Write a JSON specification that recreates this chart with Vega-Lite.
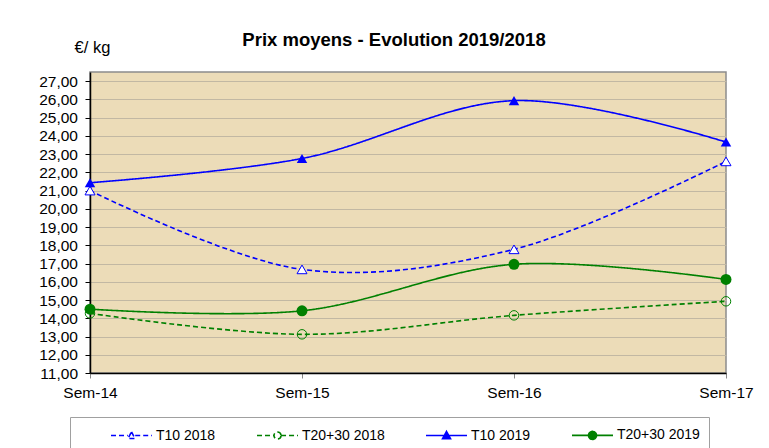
{
  "$schema": "https://vega.github.io/schema/vega-lite/v6.json",
  "width": 636,
  "height": 301,
  "autosize": {"type": "none"},
  "padding": {"left": 90, "top": 72, "right": 43, "bottom": 75},
  "background": "white",
  "title": {
    "text": "Prix moyens - Evolution 2019/2018",
    "font": "Liberation Sans",
    "fontSize": 18.5,
    "fontWeight": "bold",
    "color": "black",
    "frame": "group",
    "anchor": "middle",
    "baseline": "alphabetic",
    "offset": 0,
    "dy": 25,
    "dx": -14
  },
  "data": {
    "values": [
      {"semaine": "Sem-14", "serie": "T10 2018", "prix": 21.0},
      {"semaine": "Sem-15", "serie": "T10 2018", "prix": 16.68},
      {"semaine": "Sem-16", "serie": "T10 2018", "prix": 17.78},
      {"semaine": "Sem-17", "serie": "T10 2018", "prix": 22.6},
      {"semaine": "Sem-14", "serie": "T20+30 2018", "prix": 14.27},
      {"semaine": "Sem-15", "serie": "T20+30 2018", "prix": 13.12},
      {"semaine": "Sem-16", "serie": "T20+30 2018", "prix": 14.16},
      {"semaine": "Sem-17", "serie": "T20+30 2018", "prix": 14.93},
      {"semaine": "Sem-14", "serie": "T10 2019", "prix": 21.43},
      {"semaine": "Sem-15", "serie": "T10 2019", "prix": 22.76},
      {"semaine": "Sem-16", "serie": "T10 2019", "prix": 25.93},
      {"semaine": "Sem-17", "serie": "T10 2019", "prix": 23.66},
      {"semaine": "Sem-14", "serie": "T20+30 2019", "prix": 14.5},
      {"semaine": "Sem-15", "serie": "T20+30 2019", "prix": 14.41},
      {"semaine": "Sem-16", "serie": "T20+30 2019", "prix": 16.96},
      {"semaine": "Sem-17", "serie": "T20+30 2019", "prix": 16.13}
    ]
  },
  "encoding": {
    "x": {
      "field": "semaine",
      "type": "ordinal",
      "scale": {"type": "point", "padding": 0},
      "axis": {
        "title": null,
        "labelAngle": 0,
        "labelFont": "Liberation Sans",
        "labelFontSize": 15.5,
        "labelColor": "black",
        "labelPadding": 7,
        "domainColor": "black",
        "domainWidth": 1.5,
        "tickColor": "#888888",
        "tickSize": 5,
        "grid": false
      }
    },
    "y": {
      "field": "prix",
      "type": "quantitative",
      "scale": {"domain": [11, 27.5], "nice": false, "zero": false},
      "axis": {
        "values": [11, 12, 13, 14, 15, 16, 17, 18, 19, 20, 21, 22, 23, 24, 25, 26, 27],
        "labelExpr": "replace(format(datum.value, '.2f'), '.', ',')",
        "labelFont": "Liberation Sans",
        "labelFontSize": 15.5,
        "labelColor": "black",
        "labelPadding": 7.5,
        "domainColor": "black",
        "domainWidth": 1.5,
        "tickColor": "black",
        "tickSize": 5,
        "grid": true,
        "gridColor": "#c2b8a3",
        "gridWidth": 1,
        "title": "€/ kg",
        "titleFont": "Liberation Sans",
        "titleFontSize": 16.5,
        "titleFontWeight": "normal",
        "titleColor": "black",
        "titleAngle": 0,
        "titleAlign": "center",
        "titleBaseline": "alphabetic",
        "titleX": 2,
        "titleY": -20
      }
    }
  },
  "layer": [
    {
      "mark": {"type": "line", "interpolate": "catmull-rom"},
      "encoding": {
        "color": {
          "field": "serie",
          "type": "nominal",
          "scale": {
            "domain": ["T10 2018", "T20+30 2018", "T10 2019", "T20+30 2019"],
            "range": ["#0000ff", "#008000", "#0000ff", "#008000"]
          },
          "legend": {
            "title": null,
            "orient": "none",
            "legendX": -20,
            "legendY": 345,
            "direction": "horizontal",
            "columns": 4,
            "padding": 9,
            "strokeColor": "#a0a0a0",
            "fillColor": "white",
            "symbolSize": 256,
            "symbolOffset": 31,
            "labelOffset": 28,
            "columnPadding": 9,
            "labelFont": "Liberation Sans",
            "labelFontSize": 14,
            "labelColor": "black",
            "encode": {
              "symbols": {
                "update": {
                  "size": {"value": 256},
                  "shape": {"signal": "datum.value == 'T10 2018' ? 'M-1,0H1.1M2.025,0H4.125M1.5625,-0.44L2.0,0.38L1.125,0.38Z' : datum.value == 'T20+30 2018' ? 'M-1,0H1.12M2.005,0H4.125M2.0025,0A0.44,0.44,0,1,1,1.1225,0A0.44,0.44,0,1,1,2.0025,0Z' : datum.value == 'T10 2019' ? 'M-1,0H4.125M1.5625,-0.5L2.0625,0.4L1.0625,0.4Z' : 'M-1,0H4.125M2.0625,0A0.5,0.5,0,1,1,1.0625,0A0.5,0.5,0,1,1,2.0625,0Z'"},
                  "fill": {"signal": "datum.value == 'T10 2018' ? 'white' : datum.value == 'T20+30 2018' ? 'transparent' : datum.value == 'T10 2019' ? '#0000ff' : '#008000'"},
                  "stroke": {"signal": "indexof(datum.value, 'T10') == 0 ? '#0000ff' : '#008000'"},
                  "strokeDash": {"signal": "indexof(datum.value, '2018') > 0 ? [4, 2] : [1, 0]"},
                  "strokeWidth": {"value": 1.3},
                  "opacity": {"value": 1}
                }
              }
            }
          }
        },
        "strokeDash": {
          "field": "serie",
          "type": "nominal",
          "scale": {
            "domain": ["T10 2018", "T20+30 2018", "T10 2019", "T20+30 2019"],
            "range": [[5, 3], [5, 3], [1, 0], [1, 0]]
          },
          "legend": null
        },
        "strokeWidth": {
          "field": "serie",
          "type": "nominal",
          "scale": {
            "domain": ["T10 2018", "T20+30 2018", "T10 2019", "T20+30 2019"],
            "range": [1.6, 1.6, 2, 2]
          },
          "legend": null
        }
      }
    },
    {
      "transform": [{"filter": "datum.serie == 'T10 2018'"}],
      "mark": {"type": "point", "shape": "triangle-up", "filled": false, "fill": "white", "fillOpacity": 1, "stroke": "#0000ff", "strokeWidth": 1, "size": 100, "opacity": 1}
    },
    {
      "transform": [{"filter": "datum.serie == 'T20+30 2018'"}],
      "mark": {"type": "point", "shape": "circle", "filled": false, "stroke": "#008000", "strokeWidth": 1, "size": 90, "opacity": 1}
    },
    {
      "transform": [{"filter": "datum.serie == 'T10 2019'"}],
      "mark": {"type": "point", "shape": "triangle-up", "filled": true, "color": "#0000ff", "size": 110, "opacity": 1}
    },
    {
      "transform": [{"filter": "datum.serie == 'T20+30 2019'"}],
      "mark": {"type": "point", "shape": "circle", "filled": true, "color": "#008000", "size": 120, "opacity": 1}
    }
  ],
  "config": {
    "view": {"fill": "#ecdcb8", "stroke": "#8c8c8c", "strokeWidth": 1.5}
  }
}
